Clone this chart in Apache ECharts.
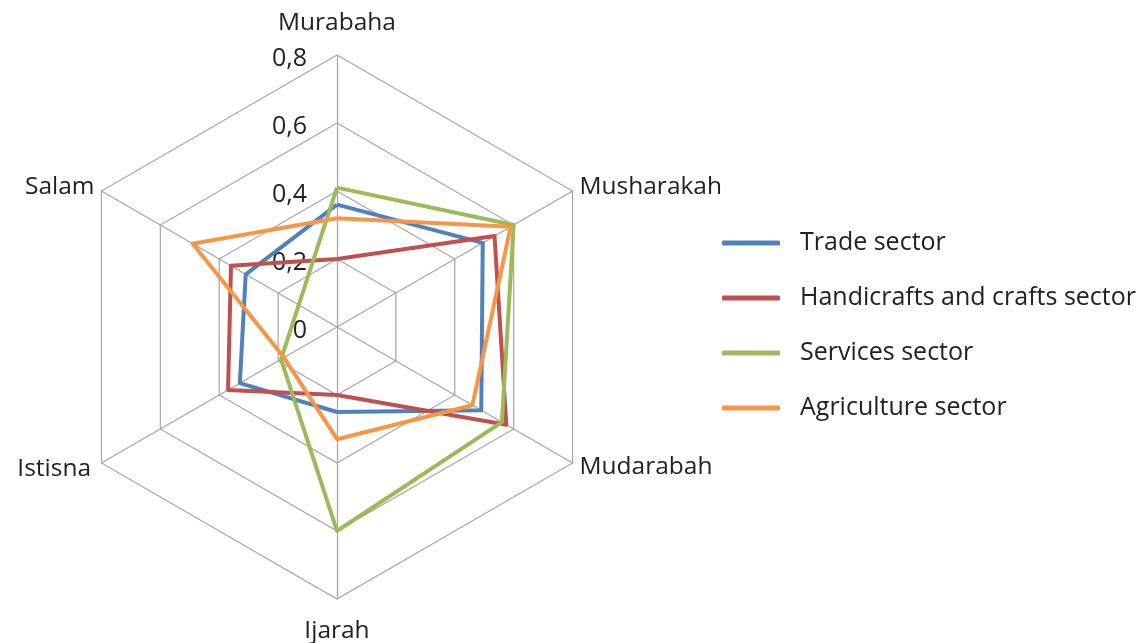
<!DOCTYPE html>
<html>
<head>
<meta charset="utf-8">
<script src="https://cdn.jsdelivr.net/npm/echarts@6/dist/echarts.min.js"></script>
<style>
html,body{margin:0;padding:0;background:#fff;}
#chart{width:1144px;height:643px;}
</style>
</head>
<body>
<div id="chart"></div>
<script>
// Indicators in ECharts drawing order (counterclockwise from top)
const categories = ['Murabaha', 'Salam', 'Istisna', 'Ijarah', 'Mudarabah', 'Musharakah'];
const seriesNames = ['Trade sector', 'Handicrafts and crafts sector', 'Services sector', 'Agriculture sector'];
const trade       = [0.36, 0.31, 0.33, 0.25, 0.49, 0.495];
const handicrafts = [0.20, 0.36, 0.37, 0.20, 0.575, 0.535];
const services    = [0.41, 0.13, 0.19, 0.60, 0.56, 0.60];
const agriculture = [0.32, 0.49, 0.18, 0.33, 0.46, 0.59];
const axisMax = 0.8;
const axisSplits = 4;

const colors = ['#4F81BD', '#C0504D', '#9BBB59', '#F79646'];
const values = [trade, handicrafts, services, agriculture];
const nameGaps = [19, 8, 12, 20, 8, 8];

const chart = echarts.init(document.getElementById('chart'), null, {renderer: 'canvas'});
const font = '"Open Sans", "Noto Sans", sans-serif';

const option = {
  animation: false,
  backgroundColor: '#ffffff',
  legend: {
    orient: 'vertical',
    left: 717,
    top: 224,
    itemGap: 27,
    itemWidth: 58,
    itemHeight: 5,
    icon: 'roundRect',
    data: seriesNames,
    textStyle: {
      fontFamily: font,
      fontSize: 25,
      color: '#222',
      lineHeight: 28,
      padding: [0, 0, 0, 15]
    }
  },
  radar: {
    center: [337, 327],
    radius: 272,
    startAngle: 90,
    shape: 'polygon',
    splitNumber: axisSplits,
    indicator: categories.map((c, i) => {
      const ind = {name: c, min: 0, max: axisMax, nameGap: nameGaps[i]};
      if (i === 0) ind.axisLabel = {show: true};
      return ind;
    }),
    axisName: {
      color: '#222',
      fontFamily: font,
      fontSize: 24.5
    },
    axisLabel: {
      show: false,
      color: '#222',
      fontFamily: font,
      fontSize: 25,
      margin: 30,
      formatter: v => '{t|' + (v === 0 ? '0' : (+v).toFixed(1).replace('.', ',')) + '}',
      rich: {
        t: {
          color: '#222',
          fontFamily: font,
          fontSize: 25,
          padding: [7, 0, 0, 0]
        }
      }
    },
    axisTick: {show: false},
    axisLine: {lineStyle: {color: '#a6a6a6', width: 1.2}},
    splitLine: {lineStyle: {color: '#a6a6a6', width: 1.2}},
    splitArea: {show: false}
  },
  series: [{
    type: 'radar',
    symbol: 'none',
    data: seriesNames.map((n, i) => ({
      name: n,
      value: values[i],
      lineStyle: {color: colors[i], width: 4},
      itemStyle: {color: colors[i]}
    }))
  }]
};
chart.setOption(option);
</script>
</body>
</html>
